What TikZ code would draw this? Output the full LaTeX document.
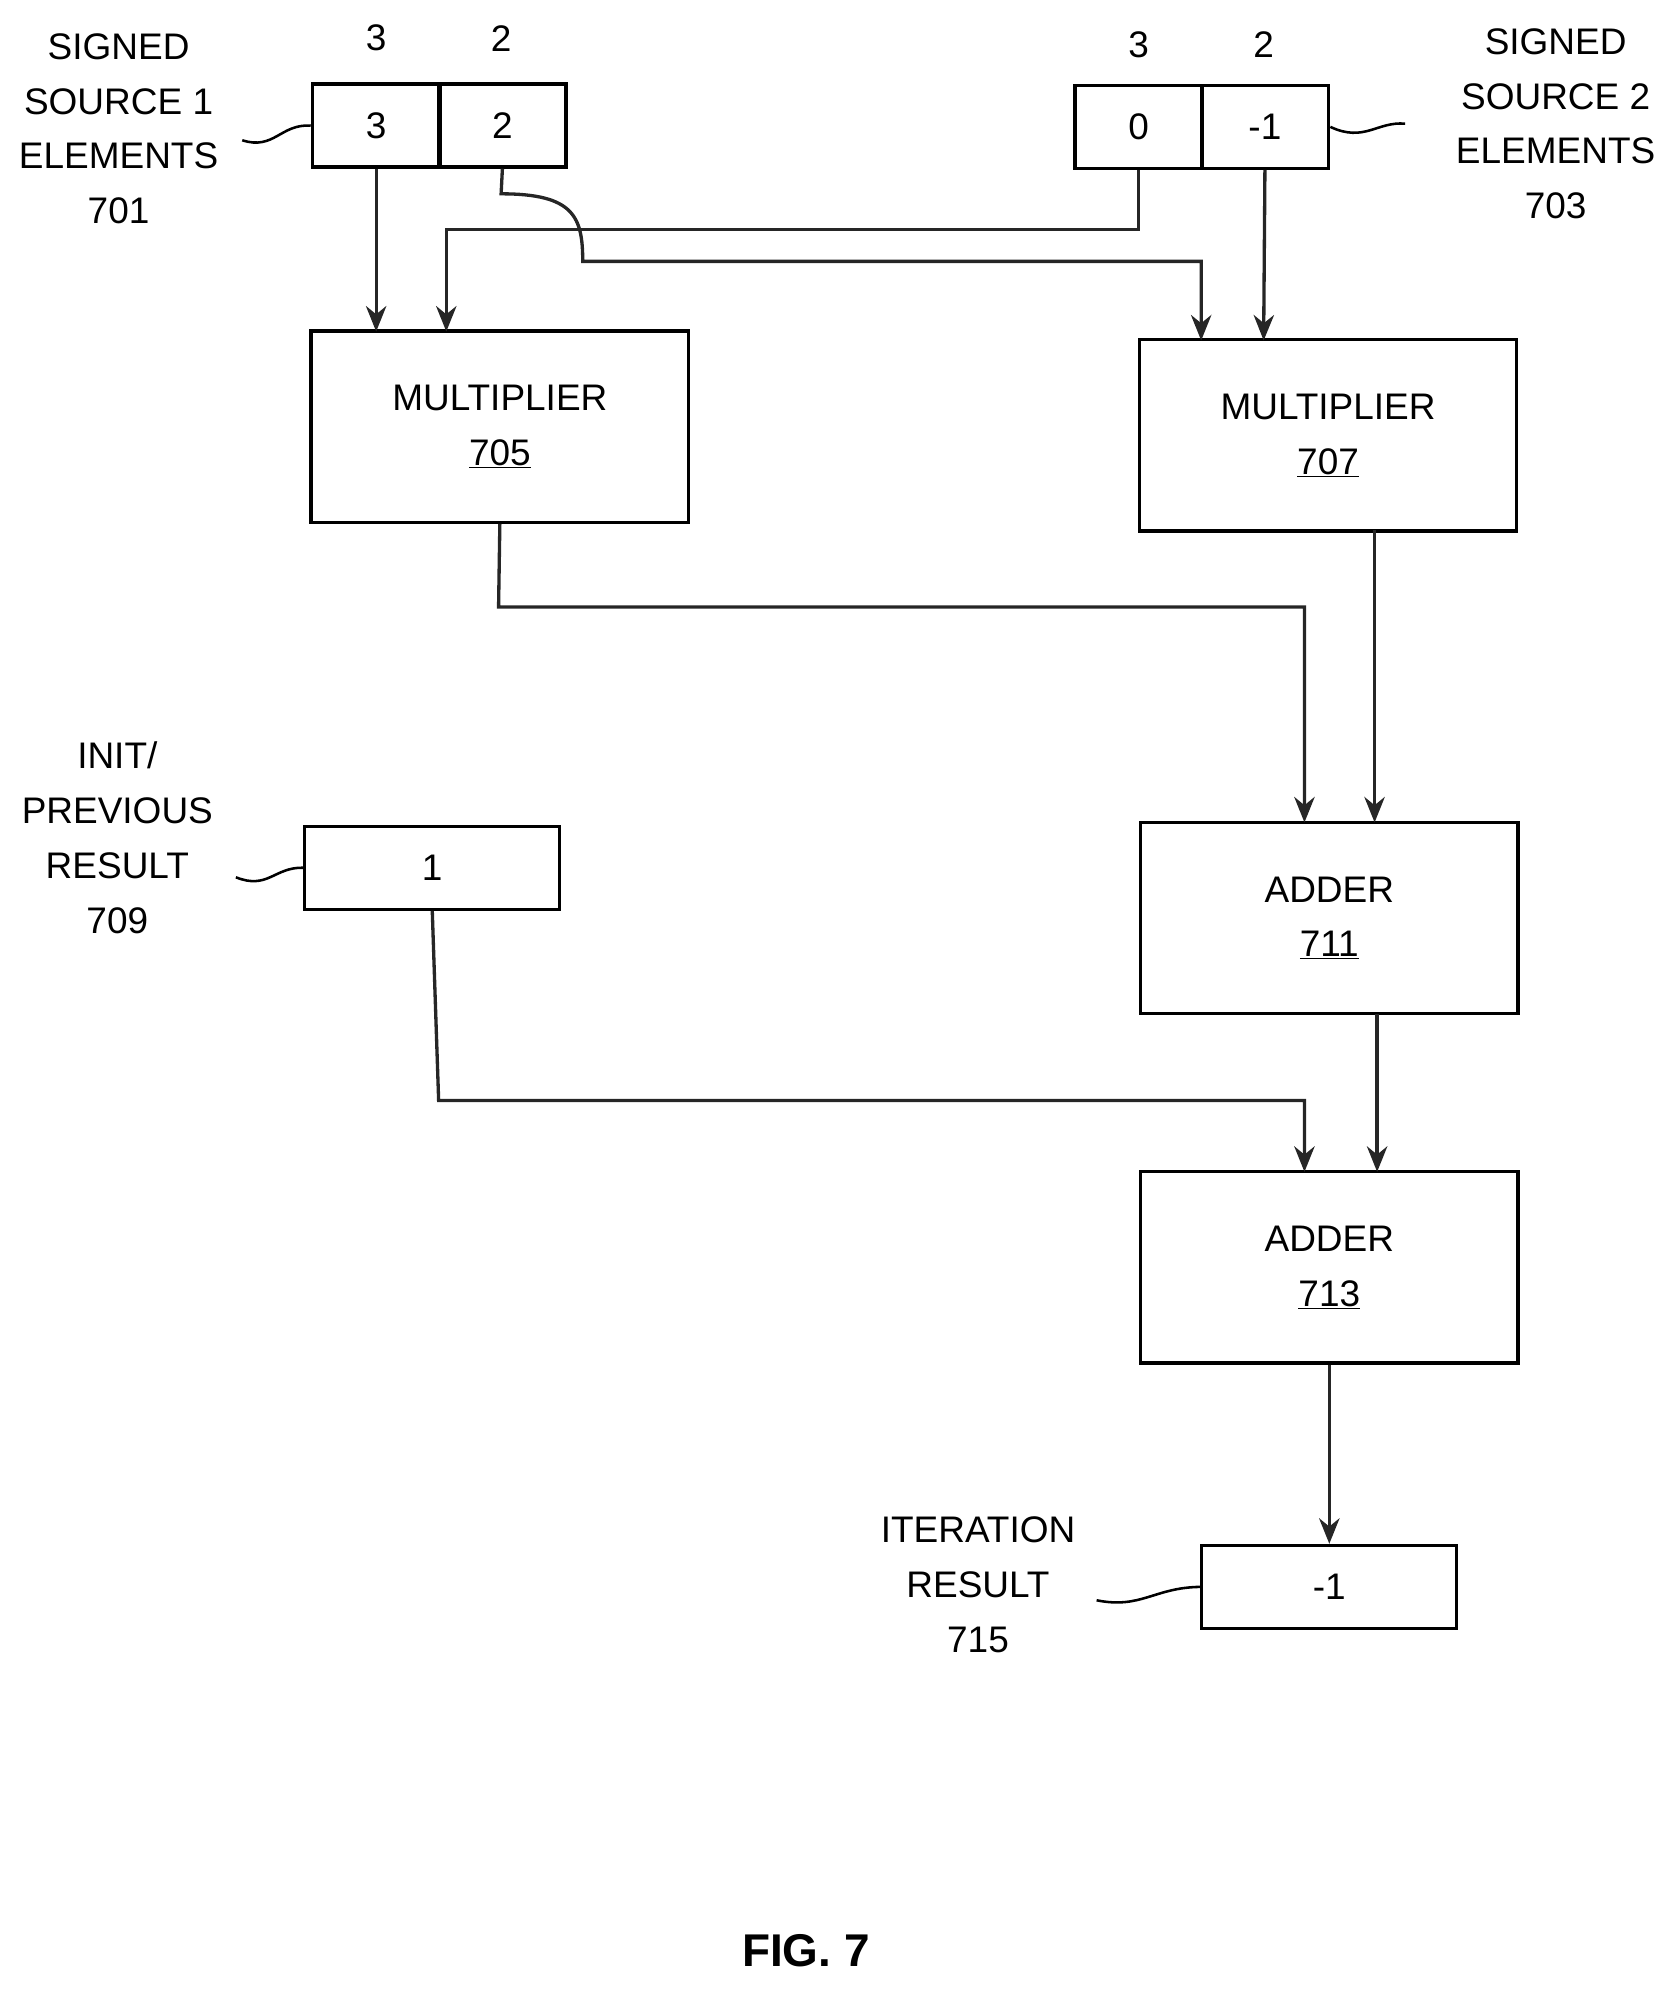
\documentclass[tikz,border=0pt]{standalone}
\usepackage{fontspec}
\setmainfont{Liberation Sans}
\usetikzlibrary{arrows.meta}
\begin{document}
\begin{tikzpicture}[x=1pt,y=-1pt,
  every node/.style={font=\fontsize{29}{43}\selectfont, align=center, inner sep=0pt},
  box/.style={draw, line width=2.6pt, minimum width=#1, minimum height=65pt},
  blk/.style={draw, line width=2.6pt, minimum width=296pt, minimum height=150pt},
  wire/.style={line width=2.6pt, draw=black!85},
  arr/.style={wire, -{Stealth[length=20pt,width=16pt]}},
  lead/.style={line width=2pt}]
\useasboundingbox (0,0) rectangle (1310,1563);
% source 1
\node[box=100pt] (a3) at (295,98.5) {3};
\node[box=100pt] (a2) at (394,98.5) {2};
\node (a3l) at (295,30) {3};
\node (a2l) at (393,30) {2};
\node (s1) at (93,101) {SIGNED\\SOURCE 1\\ELEMENTS\\701};
% source 2
\node[box=100pt] (b3) at (893,99.5) {0};
\node[box=100pt] (b2) at (992,99.5) {-1};
\node (b3l) at (893,35) {3};
\node (b2l) at (991,35) {2};
\node (s2) at (1220,97) {SIGNED\\SOURCE 2\\ELEMENTS\\703};
% blocks
\node[blk] (m1) at (392,334.5) {MULTIPLIER\\\underline{705}};
\node[blk] (m2) at (1041.5,341.5) {MULTIPLIER\\\underline{707}};
\node[blk] (ad1) at (1042.5,720) {ADDER\\\underline{711}};
\node[blk] (ad2) at (1042.5,994) {ADDER\\\underline{713}};
\node[box=200pt] (init) at (339,680.5) {1};
\node (il) at (92,657) {INIT/\\PREVIOUS\\RESULT\\709};
\node[box=200pt] (res) at (1042.5,1244.5) {-1};
\node (rl) at (767,1243) {ITERATION\\RESULT\\715};
\node[font=\fontsize{36}{40}\selectfont\bfseries] (fig) at (632,1530) {FIG. 7};
% leaders
\draw[lead] (190,110) .. controls (215,118) and (220,97) .. (a3.west);
\draw[lead] (b2.east) .. controls (1070,112) and (1080,95) .. (1102,97);
\draw[lead] (185,688) .. controls (210,698) and (215,680) .. (init.west);
\draw[lead] (860,1255) .. controls (895,1262) and (905,1245) .. (res.west);
% connectors
\draw[arr] (a3.south) -- (295,260);
\draw[arr] (b3.south) -- (893,180) -- (350,180) -- (350,260);
\draw[arr] (a2.south) -- (393,152) .. controls (450,152) and (457,170) .. (457,205) -- (942,205) -- (942,267);
\draw[arr] (b2.south) -- (991,267);
\draw[arr] (m1.south) -- (391,476) -- (1023,476) -- (1023,645);
\draw[arr] (1078,416) -- (1078,645);
\draw[arr] (init.south) -- (344,863) -- (1023,863) -- (1023,919);
\draw[arr] (1080,795) -- (1080,919);
\draw[arr] (ad2.south) -- (res.north);
\end{tikzpicture}
\end{document}
